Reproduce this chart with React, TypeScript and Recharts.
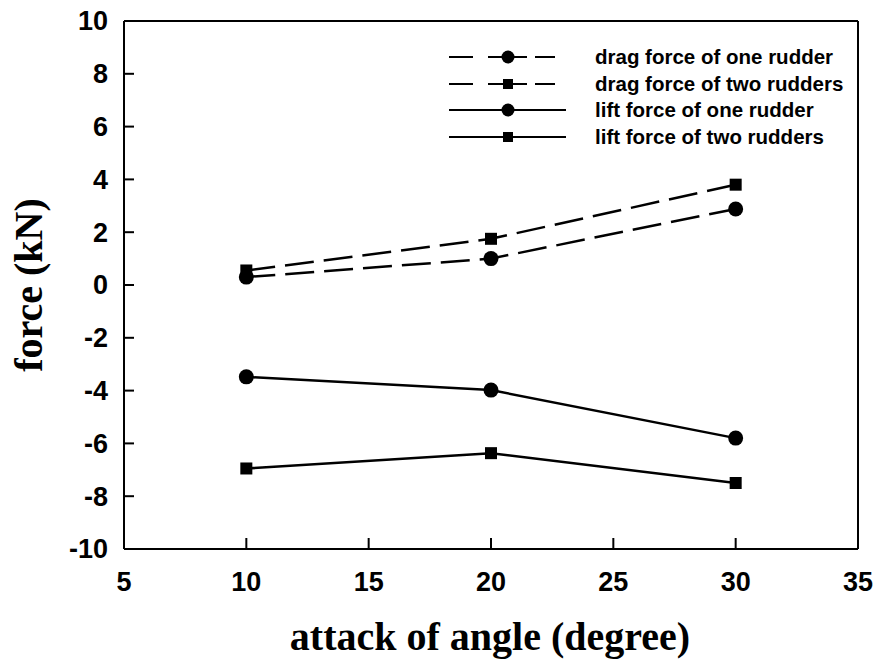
import React from 'react';
import { LineChart, Line, XAxis, YAxis, ReferenceLine } from 'recharts';

const angles = [10, 20, 30];
const dragOne = [0.3, 1.0, 2.88];
const dragTwo = [0.55, 1.75, 3.8];
const liftOne = [-3.48, -3.98, -5.8];
const liftTwo = [-6.95, -6.37, -7.5];

const xTicks = [5, 10, 15, 20, 25, 30, 35];
const yTicks = [-10, -8, -6, -4, -2, 0, 2, 4, 6, 8, 10];

const seriesNames = [
  'drag force of one rudder',
  'drag force of two rudders',
  'lift force of one rudder',
  'lift force of two rudders',
];

const data = angles.map((a, i) => ({
  angle: a,
  dragOne: dragOne[i],
  dragTwo: dragTwo[i],
  liftOne: liftOne[i],
  liftTwo: liftTwo[i],
}));

const SANS = '"Liberation Sans", Arial, sans-serif';
const SERIF = '"Liberation Serif", "Times New Roman", serif';

const SquareDot = (props: any) => {
  const { cx, cy, index } = props;
  if (cx == null || cy == null) return null;
  return <rect key={`sq-${index}`} x={cx - 6} y={cy - 6} width={12} height={12} fill="#000" />;
};

// inward ticks: tickSize/tickMargin are 0, so x/y is the point on the axis line
const XTick = (props: any) => {
  const { x, y, payload } = props;
  return (
    <g>
      <line x1={x} x2={x} y1={y} y2={y - 11} stroke="#000" strokeWidth={2} />
      <text
        x={x}
        y={y + 42}
        textAnchor="middle"
        fontFamily={SANS}
        fontWeight="bold"
        fontSize={27}
        fill="#000"
      >
        {payload.value}
      </text>
    </g>
  );
};

const YTick = (props: any) => {
  const { x, y, payload } = props;
  return (
    <g>
      <line x1={x} x2={x + 10} y1={y} y2={y} stroke="#000" strokeWidth={2} />
      <text
        x={x - 16}
        y={y}
        dy="0.35em"
        textAnchor="end"
        fontFamily={SANS}
        fontWeight="bold"
        fontSize={27}
        fill="#000"
      >
        {payload.value}
      </text>
    </g>
  );
};

const legendRows = [
  { name: seriesNames[0], dashed: true, marker: 'circle', y: 57 },
  { name: seriesNames[1], dashed: true, marker: 'square', y: 84 },
  { name: seriesNames[2], dashed: false, marker: 'circle', y: 110 },
  { name: seriesNames[3], dashed: false, marker: 'square', y: 137 },
];

const ChartLegend = () => (
  <svg
    width={877}
    height={659}
    style={{ position: 'absolute', left: 0, top: 0, pointerEvents: 'none' }}
  >
    {legendRows.map((r) => (
      <g key={r.name}>
        {r.dashed ? (
          <>
            <line x1={449} x2={473} y1={r.y} y2={r.y} stroke="#000" strokeWidth={2} />
            <line x1={488} x2={527} y1={r.y} y2={r.y} stroke="#000" strokeWidth={2} />
            <line x1={535} x2={555} y1={r.y} y2={r.y} stroke="#000" strokeWidth={2} />
          </>
        ) : (
          <line x1={449} x2={566} y1={r.y} y2={r.y} stroke="#000" strokeWidth={2} />
        )}
        {r.marker === 'circle' ? (
          <circle cx={508} cy={r.y} r={6.5} fill="#000" />
        ) : (
          <rect x={503} y={r.y - 5} width={10} height={10} fill="#000" />
        )}
        <text
          x={595}
          y={r.y + 7}
          fontFamily={SANS}
          fontWeight="bold"
          fontSize={20.5}
          fill="#000"
        >
          {r.name}
        </text>
      </g>
    ))}
  </svg>
);

export default function App() {
  return (
    <div style={{ position: 'relative', width: 877, height: 659, background: '#fff' }}>
      <style>{'body{margin:0}'}</style>
      <LineChart
        width={877}
        height={659}
        data={data}
        margin={{ top: 21, right: 19, left: 64, bottom: 70 }}
      >
        <ReferenceLine y={10} stroke="#000" strokeWidth={2} />
        <ReferenceLine x={35} stroke="#000" strokeWidth={2} />
        <XAxis
          dataKey="angle"
          type="number"
          domain={[5, 35]}
          ticks={xTicks}
          height={40}
          axisLine={{ stroke: '#000', strokeWidth: 2 }}
          tickLine={false}
          tickSize={0}
          tickMargin={0}
          tick={<XTick />}
          label={{
            content: () => (
              <text
                x={490}
                y={650}
                textAnchor="middle"
                fontFamily={SERIF}
                fontWeight="bold"
                fontSize={40}
                fill="#000"
              >
                attack of angle (degree)
              </text>
            ),
          }}
        />
        <YAxis
          type="number"
          domain={[-10, 10]}
          ticks={yTicks}
          width={60}
          axisLine={{ stroke: '#000', strokeWidth: 2 }}
          tickLine={false}
          tickSize={0}
          tickMargin={0}
          tick={<YTick />}
          label={{
            content: () => (
              <text
                x={42}
                y={285}
                transform="rotate(-90 42 285)"
                textAnchor="middle"
                fontFamily={SERIF}
                fontWeight="bold"
                fontSize={40}
                fill="#000"
              >
                force (kN)
              </text>
            ),
          }}
        />
        <Line
          dataKey="dragOne"
          name={seriesNames[0]}
          stroke="#000"
          strokeWidth={2.5}
          strokeDasharray="29 10"
          dot={{ r: 7.5, fill: '#000', stroke: 'none' }}
          isAnimationActive={false}
        />
        <Line
          dataKey="dragTwo"
          name={seriesNames[1]}
          stroke="#000"
          strokeWidth={2.5}
          strokeDasharray="29 10"
          dot={<SquareDot />}
          isAnimationActive={false}
        />
        <Line
          dataKey="liftOne"
          name={seriesNames[2]}
          stroke="#000"
          strokeWidth={2.5}
          dot={{ r: 7.5, fill: '#000', stroke: 'none' }}
          isAnimationActive={false}
        />
        <Line
          dataKey="liftTwo"
          name={seriesNames[3]}
          stroke="#000"
          strokeWidth={2.5}
          dot={<SquareDot />}
          isAnimationActive={false}
        />
      </LineChart>
      <ChartLegend />
    </div>
  );
}
